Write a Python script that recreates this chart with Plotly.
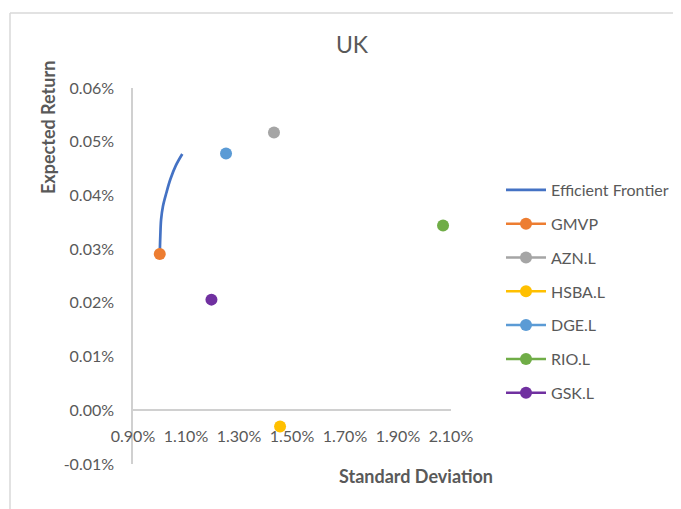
import plotly.graph_objects as go

# ---- data (fractions; displayed as %) ----
frontier_sd = [0.01001, 0.01003, 0.01006, 0.01013, 0.01026, 0.01041, 0.01061, 0.01086]
frontier_ret = [0.000291, 0.000324, 0.000355, 0.000380, 0.000405, 0.000430, 0.000455, 0.000477]

asset_names = ["GMVP", "AZN.L", "HSBA.L", "DGE.L", "RIO.L", "GSK.L"]
asset_sd = [0.01001, 0.01432, 0.01455, 0.01251, 0.02070, 0.01196]
asset_ret = [0.000291, 0.000517, -0.000030, 0.000478, 0.000344, 0.000206]
asset_colors = ["#ED7D31", "#A5A5A5", "#FFC000", "#5B9BD5", "#70AD47", "#7030A0"]

y_tickvals = [-0.0001, 0.0, 0.0001, 0.0002, 0.0003, 0.0004, 0.0005, 0.0006]
y_ticktext = ["-0.01%", "0.00%", "0.01%", "0.02%", "0.03%", "0.04%", "0.05%", "0.06%"]

x_range = [0.009, 0.021]
y_range = [-0.0001, 0.0006]

TXT = "#595959"
FONT = "Lato"

fig = go.Figure()
fig.add_trace(go.Scatter(
    x=frontier_sd, y=frontier_ret, mode="lines", name="Efficient Frontier",
    line=dict(color="#4472C4", width=2.7, shape="spline"), legendgroup="g0"))
for i, (n, sx, ry, c) in enumerate(zip(asset_names, asset_sd, asset_ret, asset_colors)):
    fig.add_trace(go.Scatter(
        x=[sx], y=[ry], mode="lines+markers", name=n,
        line=dict(color=c, width=2.5),
        marker=dict(color=c, size=12), legendgroup="g%d" % (i + 1)))

OFF = 8  # page body margin
W, H = 681 - OFF, 509 - OFF
L, T = 133 - OFF, 88 - OFF
R = W - (451 - OFF)
B = H - (464 - OFF)
pw, ph = W - L - R, H - T - B

def px(p):  # page pixel x -> paper fraction
    return (p - OFF - L) / pw

def py(p):  # page pixel y -> paper fraction
    return (H - B - (p - OFF)) / ph

fig.update_layout(
    width=W, height=H,
    margin=dict(l=L, r=R, t=T, b=B, autoexpand=False),
    paper_bgcolor="white", plot_bgcolor="white",
    font=dict(family=FONT, size=16, color=TXT),
    title=dict(text="UK", x=(352 - OFF) / W, xanchor="center", y=1 - (45 - OFF) / H, yanchor="middle",
               font=dict(family=FONT, size=23, color=TXT)),
    showlegend=True,
    legend=dict(x=px(501), y=py(173), xanchor="left", yanchor="top",
                traceorder="grouped", tracegroupgap=10, itemwidth=40,
                font=dict(family=FONT, size=16, color=TXT), bgcolor="rgba(0,0,0,0)"),
    xaxis=dict(range=x_range, dtick=0.002, tick0=0.009, tickformat=".2%",
               showgrid=False, zeroline=False, showline=True, linecolor="#d0d0d0", linewidth=1.5,
               anchor="free", position=(0 - y_range[0]) / (y_range[1] - y_range[0]),
               ticks="", ticklabelstandoff=12, tickfont=dict(size=16, color=TXT)),
    yaxis=dict(range=y_range, tickvals=y_tickvals, ticktext=y_ticktext,
               showgrid=False, zeroline=False, showline=True, linecolor="#d0d0d0", linewidth=1.5,
               ticks="", ticklabelstandoff=14, tickfont=dict(size=16, color=TXT)),
    annotations=[
        dict(text="<b>Expected Return</b>", textangle=-90, xref="paper", yref="paper",
             x=px(48), y=py(128), xanchor="center", yanchor="middle", showarrow=False,
             font=dict(family=FONT, size=18, color=TXT)),
        dict(text="<b>Standard Deviation</b>", xref="paper", yref="paper",
             x=px(416), y=py(476), xanchor="center", yanchor="middle", showarrow=False,
             font=dict(family=FONT, size=18, color=TXT)),
    ],
    shapes=[
        dict(type="line", xref="paper", yref="paper", x0=px(10), x1=px(690), y0=py(13), y1=py(13),
             line=dict(color="#d9d9d9", width=1.5)),
        dict(type="line", xref="paper", yref="paper", x0=px(10), x1=px(10), y0=py(13), y1=py(520),
             line=dict(color="#d9d9d9", width=1.5)),
    ],
)

fig.write_html("out.html")
